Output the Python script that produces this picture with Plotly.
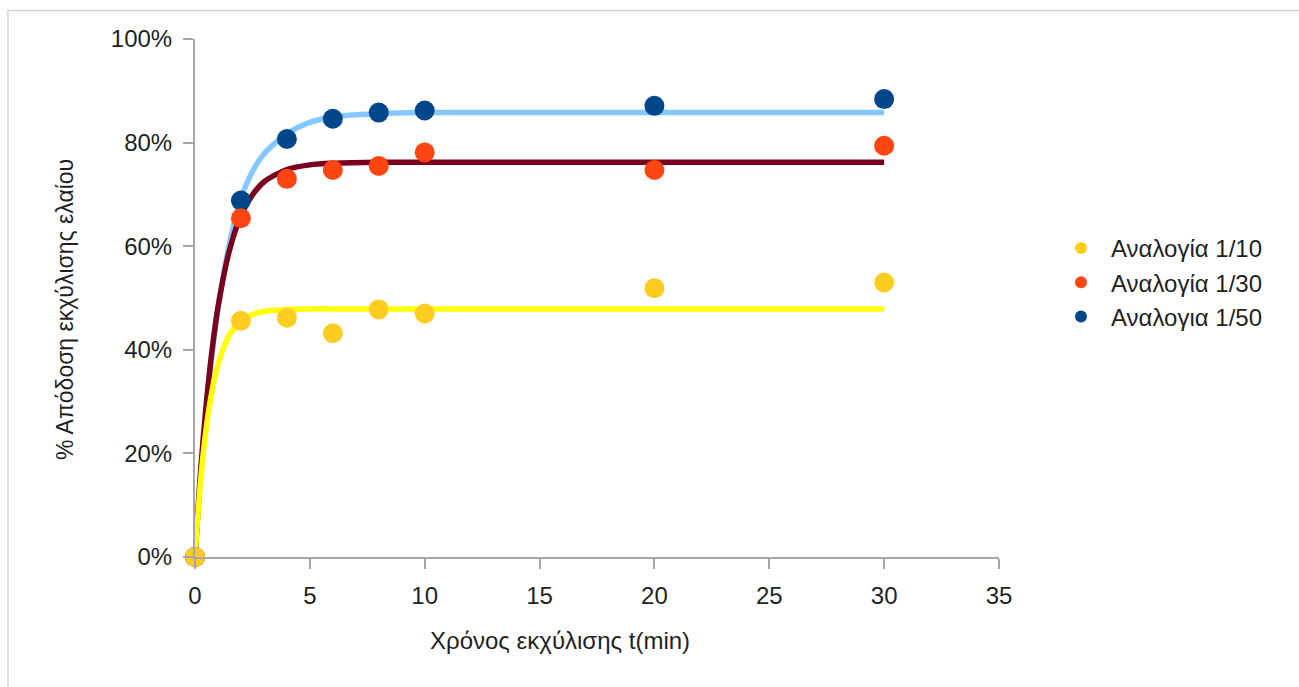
import plotly.graph_objects as go

# Measured extraction yield (%) versus extraction time (min)
t_data = [0, 2, 4, 6, 8, 10, 20, 30]
ratio_10 = [0, 45.6, 46.2, 43.2, 47.8, 47.0, 51.9, 53.0]
ratio_30 = [0, 65.4, 73.0, 74.7, 75.5, 78.1, 74.7, 79.4]
ratio_50 = [0, 68.8, 80.7, 84.6, 85.8, 86.2, 87.1, 88.4]

# Fitted saturation curves
t_fit = [0, 0.25, 0.5, 0.75, 1, 1.5, 2, 2.5, 3, 4, 5, 6, 8, 10, 20, 30]
fit_10 = [0, 15.0, 25.3, 32.3, 37.2, 42.9, 45.5, 46.8, 47.4, 47.8, 47.9, 47.9, 47.9, 47.9, 47.9, 47.9]
fit_30 = [0, 16.9, 30.0, 40.2, 48.2, 59.2, 65.9, 69.9, 72.4, 74.8, 75.7, 76.0, 76.2, 76.2, 76.2, 76.2]
fit_50 = [0, 16.0, 29.0, 39.5, 48.0, 60.5, 69.3, 74.4, 77.8, 81.7, 83.9, 85.0, 85.6, 85.8, 85.8, 85.8]

series_names = ["Αναλογία 1/10", "Αναλογία 1/30", "Αναλογια 1/50"]
y_ticks = [0, 20, 40, 60, 80, 100]
y_tick_labels = ["0%", "20%", "40%", "60%", "80%", "100%"]
x_ticks = [0, 5, 10, 15, 20, 25, 30, 35]

FONT = "Liberation Sans, Arial, sans-serif"
TEXT = "#1f1f1f"
AXIS = "#a6a6a6"

fig = go.Figure()

# fitted lines (under the markers)
for ys, col in [(fit_50, "#85c8ff"), (fit_30, "#7a0020"), (fit_10, "#ffff00")]:
    fig.add_trace(go.Scatter(
        x=t_fit, y=ys, mode="lines", showlegend=False, hoverinfo="skip",
        line=dict(color=col, width=5.5, shape="spline", smoothing=0.8),
    ))

# measured points
for ys, name, col, rank in [(ratio_50, series_names[2], "#00468b", 3),
                            (ratio_30, series_names[1], "#ff4610", 2),
                            (ratio_10, series_names[0], "#ffcc22", 1)]:
    fig.add_trace(go.Scatter(
        x=t_data, y=ys, mode="markers", name=name, legendrank=rank,
        marker=dict(color=col, size=20, line=dict(width=0)),
        cliponaxis=False,
    ))

# outer frame
fig.add_shape(type="rect", xref="paper", yref="paper",
              x0=-0.2326, x1=1.4, y0=-0.3, y1=1.055,
              line=dict(color="#d6d6d6", width=1.5), layer="below")

fig.add_annotation(text="Χρόνος εκχύλισης t(min)", xref="paper", yref="paper",
                   x=(560 - 195) / 804, y=(557 - 640) / 518, showarrow=False,
                   font=dict(family=FONT, size=24, color=TEXT),
                   xanchor="center", yanchor="middle")
fig.add_annotation(text="% Απόδοση εκχύλισης ελαίου", xref="paper", yref="paper",
                   x=(65 - 195) / 804, y=(557 - 310) / 518, showarrow=False,
                   textangle=-90, font=dict(family=FONT, size=23, color=TEXT),
                   xanchor="center", yanchor="middle")

fig.update_layout(
    width=1299, height=687,
    margin=dict(l=195, r=300, t=39, b=130),
    paper_bgcolor="white", plot_bgcolor="white",
    font=dict(family=FONT, size=23, color=TEXT),
    legend=dict(x=(1051 - 195) / 804, y=(557 - 226) / 518, xanchor="left", yanchor="top",
                font=dict(family=FONT, size=24, color=TEXT),
                bgcolor="rgba(0,0,0,0)", itemsizing="constant", itemwidth=50,
                tracegroupgap=0),
    xaxis=dict(range=[0, 35], tickvals=x_ticks, showgrid=False, zeroline=False,
               showline=True, linecolor=AXIS, linewidth=2,
               ticks="outside", ticklen=10, tickwidth=2, tickcolor=AXIS,
               ticklabelstandoff=6,
               tickfont=dict(family=FONT, size=24, color=TEXT)),
    yaxis=dict(range=[0, 100], tickvals=y_ticks, ticktext=y_tick_labels,
               showgrid=False, zeroline=False,
               showline=True, linecolor=AXIS, linewidth=2,
               ticks="outside", ticklen=10, tickwidth=2, tickcolor=AXIS,
               ticklabelstandoff=6,
               tickfont=dict(family=FONT, size=24, color=TEXT)),
)

fig.write_html("out.html")
